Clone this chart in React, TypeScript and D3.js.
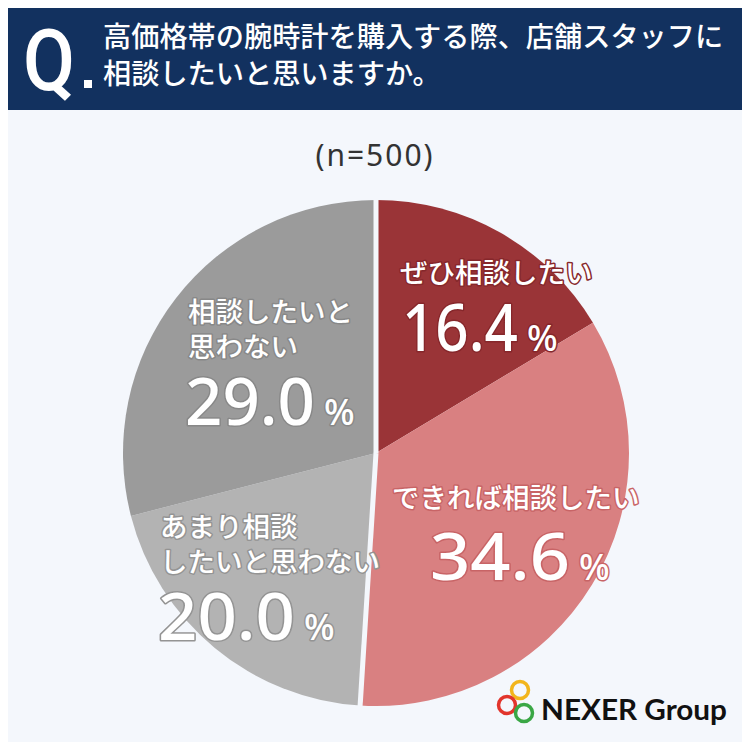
import React from "react";
import * as d3 from "d3";

const categories = ["ぜひ相談したい", "できれば相談したい", "あまり相談したいと思わない", "相談したいと思わない"];
const values = [16.4, 34.6, 20.0, 29.0];
const labelLines = [["ぜひ相談したい"], ["できれば相談したい"], ["あまり相談", "したいと思わない"], ["相談したいと", "思わない"]];
const sliceColors = ["#9a3437", "#d98081", "#b3b3b3", "#9b9b9b"];
const outlineColors = ["#86272b", "#c86466", "#949494", "#888888"];
const questionLines = ["高価格帯の腕時計を購入する際、店舗スタッフに", "相談したいと思いますか。"];
const sampleText = "(n=500)";

// layout for labels: label anchor, number anchor, number width
const labelLayout = [
  { x: 400, y: 283, nx: 402, ny: 351, nw: 116, lh: 35 },
  { x: 392, y: 508, nx: 430, ny: 580, nw: 140, lh: 35 },
  { x: 160, y: 537, nx: 158, ny: 640, nw: 137, lh: 35 },
  { x: 188, y: 322, nx: 185, ny: 425, nw: 130, lh: 35 },
];

const W = 750;
const H = 750;
const cx = 376;
const cy = 453;
const R = 253;
const BG = "#f4f7fc";
const JP = "'Noto Sans CJK JP', 'Noto Sans', sans-serif";
const NUM = "'Noto Sans', 'Noto Sans CJK JP', sans-serif";

export default function App() {
  const pie = d3.pie<number>().sort(null).value((d) => d)(values);
  const arc = d3.arc<d3.PieArcDatum<number>>().innerRadius(0).outerRadius(R);
  const splitAngles = [0, pie[1].endAngle];

  return (
    <div style={{ margin: -8, width: W, height: H }}>
      <svg width={W} height={H} viewBox={`0 0 ${W} ${H}`} style={{ display: "block" }}>
        <rect x={0} y={0} width={W} height={H} fill={BG} />
        <rect x={0} y={0} width={W} height={110} fill="#12315f" />
        <text x={23} y={90} fill="#ffffff" fontFamily="'Roboto', 'Noto Sans', sans-serif" fontWeight={500} fontSize={86} textLength={52} lengthAdjust="spacingAndGlyphs">Q</text>
        <rect x={84} y={80} width={8} height={8} fill="#ffffff" />
        {questionLines.map((l, i) => (
          <text key={i} x={103} y={47 + i * 37} fill="#ffffff" fontFamily={JP} fontWeight={500} fontSize={28.2}>{l}</text>
        ))}
        <text x={375} y={166} textAnchor="middle" fill="#333333" fontFamily={NUM} fontSize={30} letterSpacing={2}>{sampleText}</text>

        <g transform={`translate(${cx},${cy})`}>
          {pie.map((p, i) => (
            <path key={categories[i]} d={arc(p) || ""} fill={sliceColors[i]} />
          ))}
          {splitAngles.map((a, i) => (
            <line key={i} x1={0} y1={0} x2={(R + 4) * Math.sin(a)} y2={-(R + 4) * Math.cos(a)} stroke={BG} strokeWidth={5} />
          ))}
        </g>

        {values.map((v, i) => {
          const L = labelLayout[i];
          const common = {
            stroke: outlineColors[i],
            strokeWidth: 3,
            paintOrder: "stroke",
            strokeLinejoin: "round" as const,
            fill: "#ffffff",
          };
          return (
            <g key={categories[i]}>
              {labelLines[i].map((l, j) => (
                <text key={j} x={L.x} y={L.y + j * L.lh} fontFamily={JP} fontWeight={500} fontSize={27.5} {...common}>{l}</text>
              ))}
              <text x={L.nx} y={L.ny} fontFamily={NUM} fontWeight={500} fontSize={66} textLength={L.nw} lengthAdjust="spacingAndGlyphs" {...common}>
                {v.toFixed(1)}
              </text>
              <text x={L.nx + L.nw + 9} y={L.ny} fontFamily={NUM} fontWeight={500} fontSize={36} {...common}>%</text>
            </g>
          );
        })}

        <g>
          <circle cx={520} cy={690} r={8.5} fill="none" stroke="#f2b51c" strokeWidth={3.5} />
          <circle cx={507} cy={705} r={8.5} fill="none" stroke="#e2352c" strokeWidth={3.5} />
          <circle cx={524} cy={713} r={8.5} fill="none" stroke="#3aa745" strokeWidth={3.5} />
          <text x={541} y={720} fill="#111111" fontFamily="'Lato', 'Noto Sans', sans-serif" fontWeight={700} fontSize={29} textLength={186} lengthAdjust="spacingAndGlyphs">NEXER Group</text>
        </g>
      </svg>
    </div>
  );
}
